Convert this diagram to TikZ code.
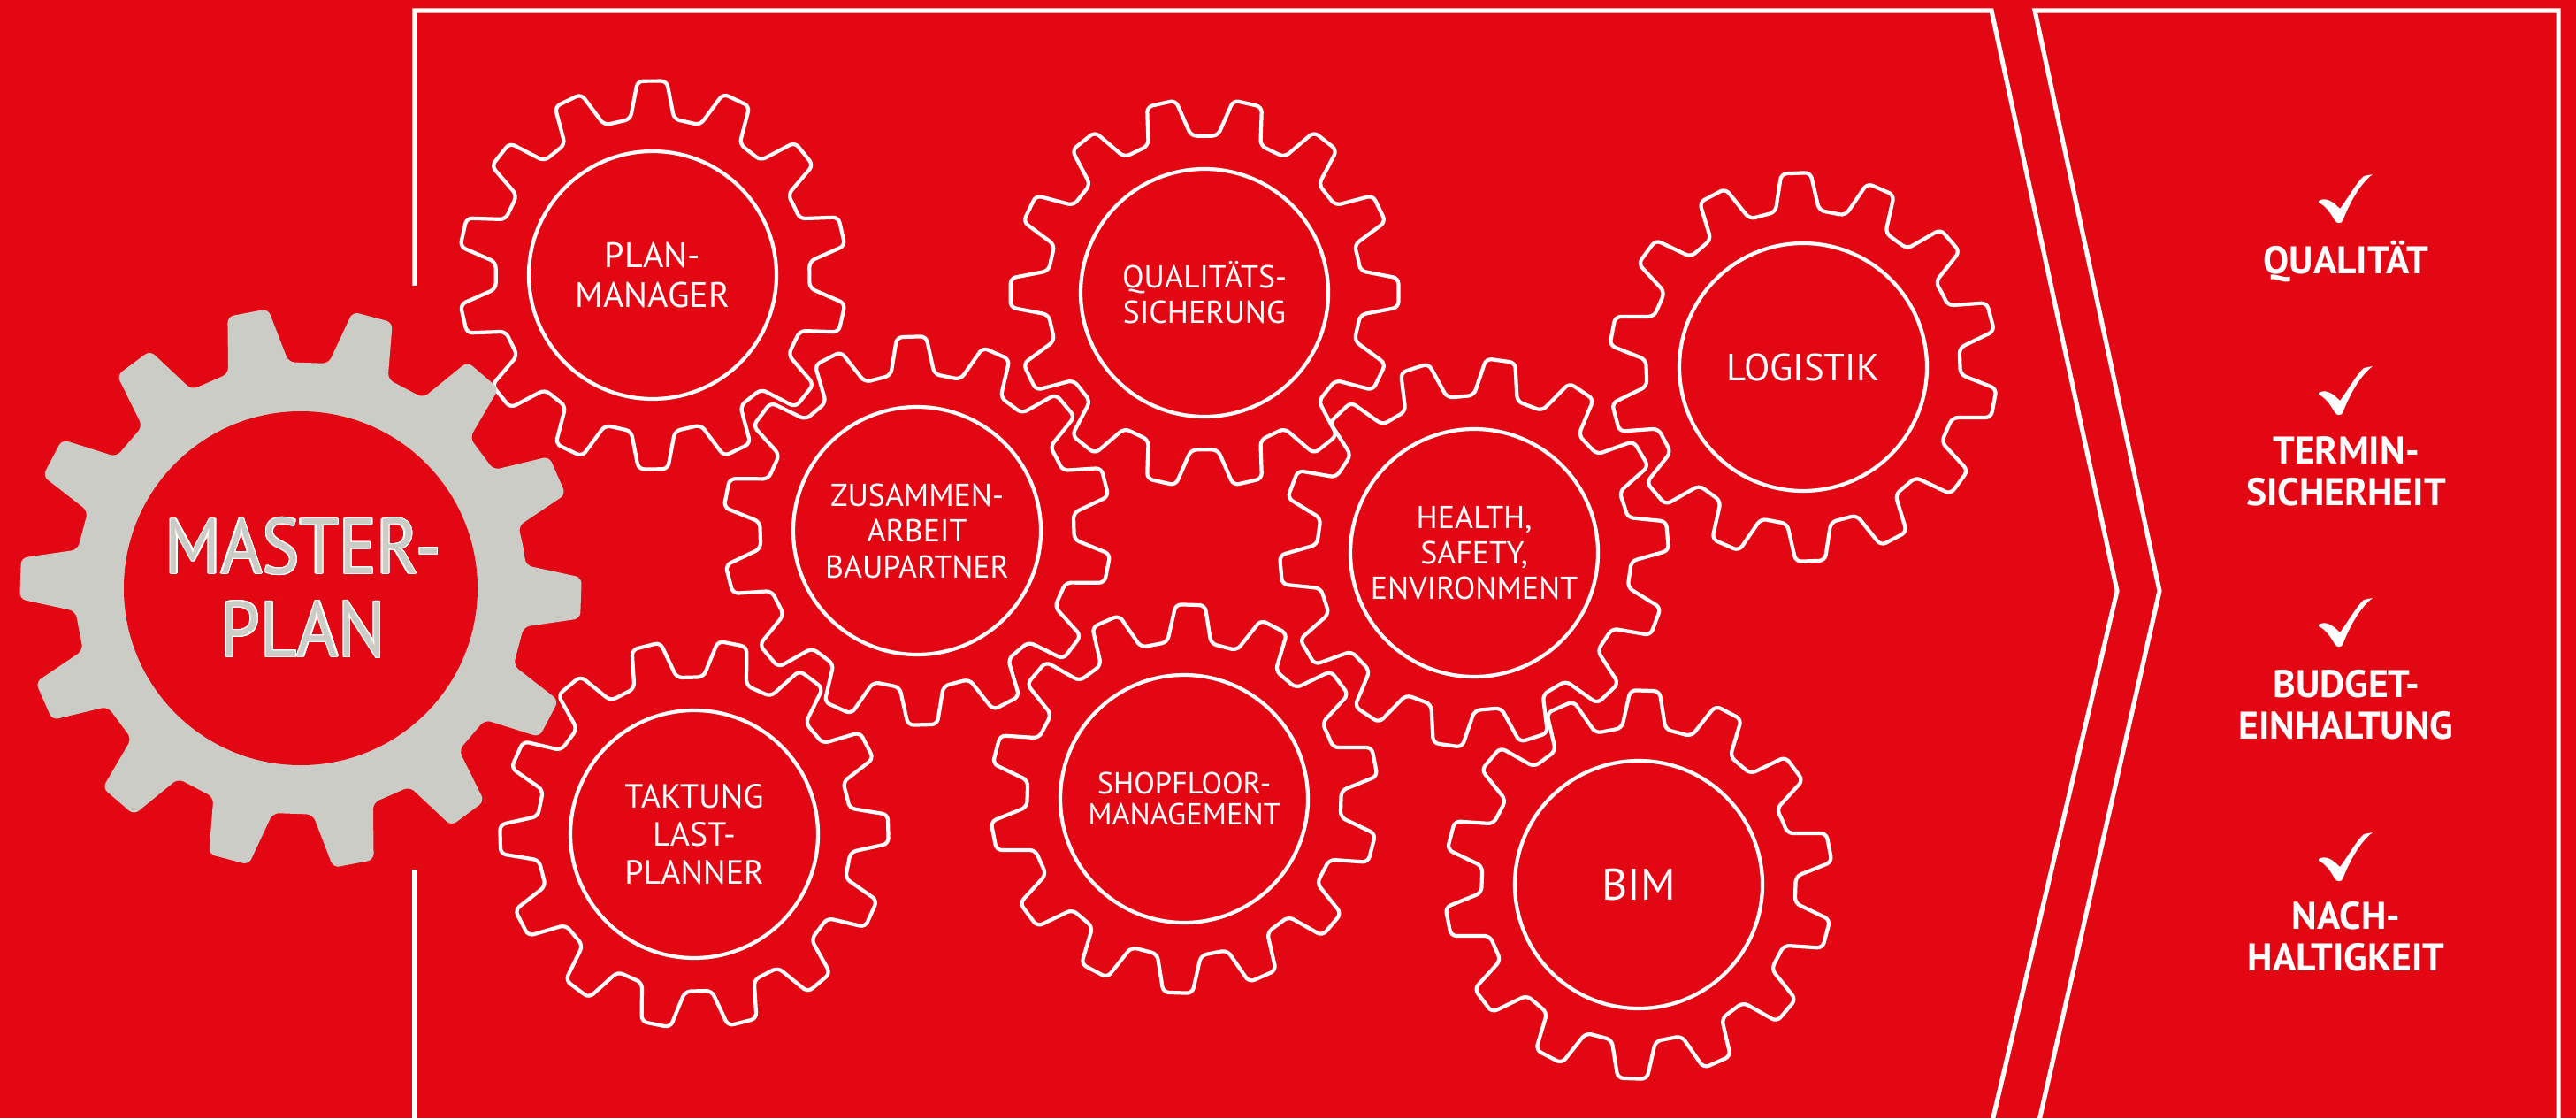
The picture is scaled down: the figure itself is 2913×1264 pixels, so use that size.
\documentclass[tikz,border=0pt]{standalone}
\usepackage{fontspec}
\usepackage{contour}
\setmainfont{PT Sans}
\newfontfamily\masterfont[FakeStretch=0.9]{PT Sans}
\contourlength{0.35pt}
\definecolor{dbred}{RGB}{227,6,19}
\definecolor{gearGray}{RGB}{203,204,198}
\tikzset{
	frameline/.style={white, line width=1.45pt},
	gearline/.style={white, line width=1.2pt, rounded corners=1.8pt},
	lbl/.style 2 args={text=white, align=center, inner sep=0pt, font=\fontsize{#1}{#2}\selectfont},
	goal/.style={text=white, align=center, inner sep=0pt, font=\bfseries\fontsize{12.4}{13.4}\selectfont},
	tick/.pic={\fill[white] (-31,3) .. controls (-22,-2) and (-14,5) .. (-7,12) .. controls (2,0) and (12,-18) .. (20,-25) -- (30,-27) .. controls (14,-15) and (2,10) .. (-4,26) .. controls (-6,29) and (-11,29) .. (-13,25) .. controls (-18,16) and (-24,8) .. (-31,5) -- cycle;}
}
\begin{document}
\begin{tikzpicture}[x=0.01cm, y=-0.01cm]
	\fill[dbred] (0,0) rectangle (2913,1264);
	\useasboundingbox (0,0) rectangle (2913,1264);
	% frames
	\draw[frameline] (469,323) -- (469,12) -- (2252,12) -- (2394,668) -- (2250,1280);
	\draw[frameline] (469,983) -- (469,1280);
	\draw[frameline] (2303,1280) -- (2442,668) -- (2301,12) -- (2893,12) -- (2893,1280);
	% outline gears
	\foreach \cx/\cy/\off in {738/311/-13, 1362/331/0, 1037/600/-14.5, 2039/415/-15, 1667/625/-5, 785/943/-1.5, 1339/903/-11, 1853/1000/-11}{
		\draw[gearline, shift={(\cx,\cy)}] ({\off-12.857}:178)
			\foreach \k in {0,...,13}{
				-- ({\off+\k*25.714-8}:178) -- ({\off+\k*25.714-4.3}:220)
				-- ({\off+\k*25.714+4.3}:220) -- ({\off+\k*25.714+8}:178)
			} -- cycle;
		\draw[white, line width=1.2pt] (\cx,\cy) circle[radius=140];
	}
	% master gear
	\fill[gearGray, rounded corners=2pt, shift={(340,665)}] ({2-12.857}:256)
		\foreach \k in {0,...,13}{
			-- ({2+\k*25.714-7.8}:256) -- ({2+\k*25.714-4.2}:318)
			-- ({2+\k*25.714+4.2}:318) -- ({2+\k*25.714+7.8}:256)
		} -- cycle;
	\fill[dbred] (340,665) circle[radius=200];
	\node[lbl={25.2}{26.7}, text=gearGray, font={\masterfont\fontsize{25.2}{26.7}\selectfont}] (master) at (343,665) {\contour{white}{MASTER-}\\\contour{white}{PLAN}};
	% gear labels
	\node[lbl={11.4}{12.8}] (planmanager) at (738,311) {PLAN-\\MANAGER};
	\node[lbl={10.2}{11.4}] (qualitaets) at (1362,331) {QUALITÄTS-\\SICHERUNG};
	\node[lbl={10.2}{11.5}] (zusammen) at (1037,600) {ZUSAMMEN-\\ARBEIT\\BAUPARTNER};
	\node[lbl={12.2}{13}] (logistik) at (2039,415) {LOGISTIK};
	\node[lbl={10.2}{11.4}] (health) at (1667,625) {HEALTH,\\SAFETY,\\ENVIRONMENT};
	\node[lbl={10.8}{12.2}] (taktung) at (785,943) {TAKTUNG\\LAST-\\PLANNER};
	\node[lbl={9.8}{10}] (shopfloor) at (1339,903) {SHOPFLOOR-\\MANAGEMENT};
	\node[lbl={14.2}{15}] (bim) at (1853,1000) {BIM};
	% goals
	\foreach \y in {224,441,703,968}
		\pic at (2653,\y) {tick};
	\node[goal, anchor=base] (qualitaet) at (2653,310) {QUALITÄT};
	\node[goal] (termin) at (2653,533) {TERMIN-\\SICHERHEIT};
	\node[goal] (budget) at (2653,797) {BUDGET-\\EINHALTUNG};
	\node[goal] (nachhalt) at (2653,1059) {NACH-\\HALTIGKEIT};
\end{tikzpicture}
\end{document}
